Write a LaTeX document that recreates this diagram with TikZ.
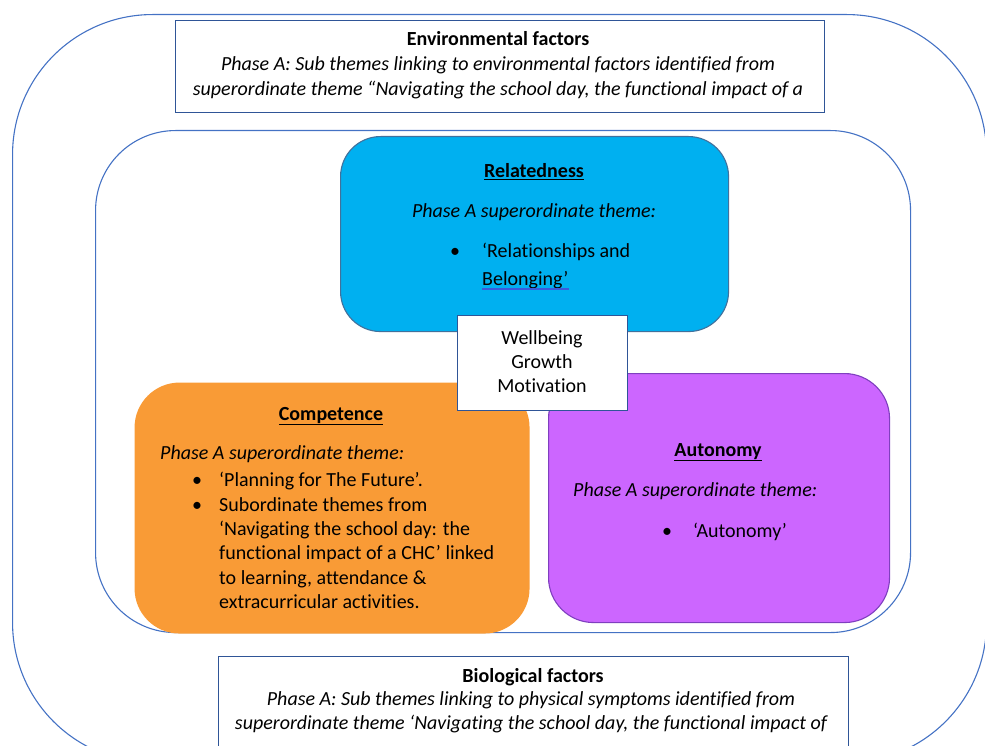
\documentclass[tikz,border=0pt]{standalone}
\usepackage{fontspec}
\setmainfont[Ligatures={NoCommon}]{Carlito}
\definecolor{lineblue}{HTML}{4472C4}
\definecolor{boxblue}{HTML}{2F5597}
\definecolor{relfill}{HTML}{00B0F0}
\definecolor{relline}{HTML}{41719C}
\definecolor{compfill}{HTML}{F99B36}
\definecolor{autfill}{HTML}{CC66FF}
\definecolor{autline}{HTML}{7F3FBF}
\definecolor{checkblue}{HTML}{3B5BDB}
\begin{document}
\begin{tikzpicture}[x=1pt,y=-1pt,
  frame/.style={draw=lineblue, line width=1.1pt, rectangle, anchor=north west, inner sep=0pt},
  panel/.style={draw=boxblue, line width=1.1pt, fill=white, rectangle, anchor=north west, inner sep=0pt},
  card/.style={rectangle, anchor=north west, inner sep=0pt, line width=1.1pt, rounded corners=#1},
  txt/.style={font=\fontsize{20}{24}\selectfont, inner sep=0pt, anchor=base},
  txtl/.style={txt, anchor=base west},
  itl/.style={txt, font=\fontsize{20}{24}\selectfont\itshape},
  itll/.style={itl, anchor=base west},
  head/.style={txt, font=\fontsize{20}{24}\selectfont\bfseries}]
\useasboundingbox (0,0) rectangle (985,746);
\clip (0,0) rectangle (985,746);

% outer and inner frames
\node[frame, rounded corners=140pt, minimum width=974pt, minimum height=748pt] (outer) at (12,14) {};
\node[frame, rounded corners=80pt, minimum width=815pt, minimum height=502pt] (inner) at (95,130) {};

% environmental factors
\node[panel, minimum width=649pt, minimum height=92pt] (env) at (175,20) {};
\node[head] (envh) at (498,46) {Environmental factors};
\node[itl] (env1) at (498,71) {Phase A: Sub themes linking to environmental factors identified from};
\node[itl] (env2) at (498,96) {superordinate theme “Navigating the school day, the functional impact of a};

% relatedness
\node[card=40pt, draw=relline, fill=relfill, minimum width=388pt, minimum height=195pt] (rel) at (340,136) {};
\node[head] (relh) at (534,178) {\underline{Relatedness}};
\node[itl] (rels) at (534,218) {Phase A superordinate theme:};
\node[txt] (relb) at (455,258) {•};
\node[txtl] (rel1) at (482,258) {‘Relationships and};
\node[txtl] (rel2) at (482,285) {Belonging’};
\draw[checkblue, line width=1.3pt] (rel2.base west) ++(0,4) coordinate (ulA) -- (ulA -| rel2.base east);

% competence
\node[card=45pt, fill=compfill, minimum width=395pt, minimum height=251pt] (comp) at (134,382) {};
\node[head] (comph) at (331,420) {\underline{Competence}};
\node[itll] (comps) at (160,459) {Phase A superordinate theme:};
\node[txt] (compb1) at (197,486) {•};
\node[txt] (compb2) at (197,511) {•};
\node[txtl] (comp1) at (219,486) {‘Planning for The Future’.};
\node[txtl] (comp2) at (219,511) {Subordinate themes from};
\node[txtl] (comp3) at (219,535) {‘Navigating the school day: the};
\node[txtl] (comp4) at (219,559) {functional impact of a CHC’ linked};
\node[txtl] (comp5) at (219,584) {to learning, attendance \&};
\node[txtl] (comp6) at (219,608) {extracurricular activities.};

% autonomy
\node[card=45pt, draw=autline, fill=autfill, minimum width=341pt, minimum height=249pt] (aut) at (548,373) {};
\node[head] (auth) at (718,456) {\underline{Autonomy}};
\node[itll] (auts) at (573,496) {Phase A superordinate theme:};
\node[txt] (autb) at (667,537) {•};
\node[txtl] (aut1) at (693,537) {‘Autonomy’};

% centre box
\node[panel, minimum width=170pt, minimum height=95pt] (core) at (457,315) {};
\node[txt] (core1) at (542,344) {Wellbeing};
\node[txt] (core2) at (542,368) {Growth};
\node[txt] (core3) at (542,392) {Motivation};

% biological factors
\node[panel, minimum width=630pt, minimum height=110pt] (bio) at (218,656) {};
\node[head] (bioh) at (533,682) {Biological factors};
\node[itl] (bio1) at (531,705) {Phase A: Sub themes linking to physical symptoms identified from};
\node[itl] (bio2) at (531,729) {superordinate theme ‘Navigating the school day, the functional impact of};
\end{tikzpicture}
\end{document}
